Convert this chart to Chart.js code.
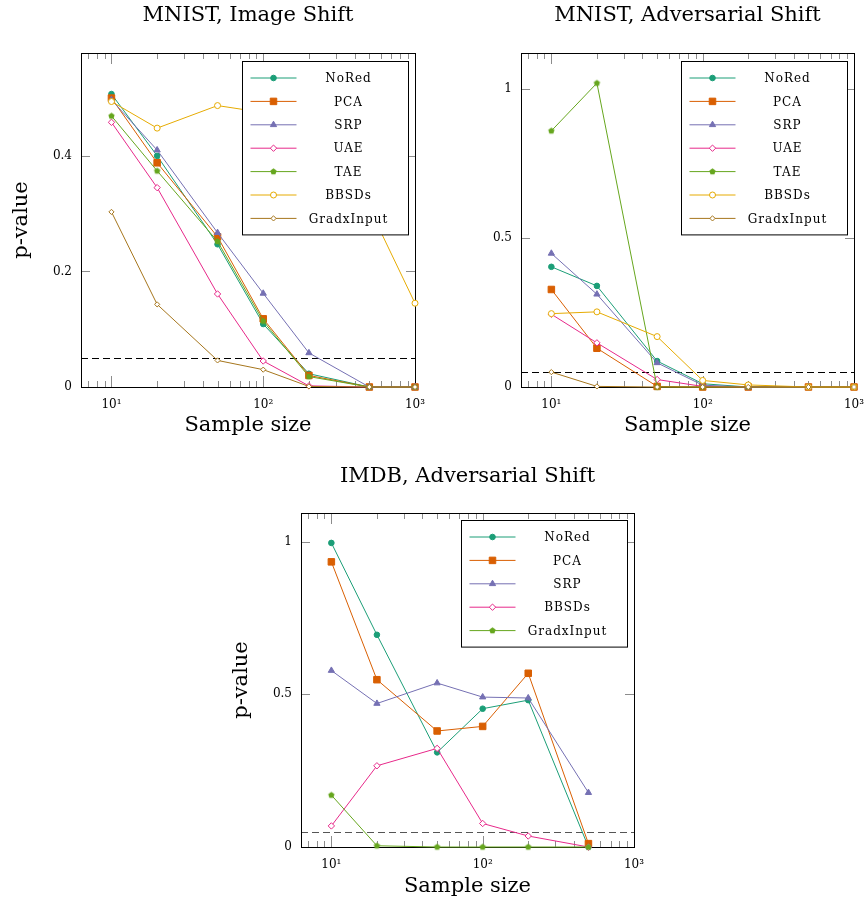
<!DOCTYPE html>
<html>
<head>
<meta charset="utf-8">
<script src="https://cdn.jsdelivr.net/npm/chart.js@4.4.0/dist/chart.umd.min.js"></script>
<style>
  html, body { margin: 0; padding: 0; background: #fff; }
  #page { position: relative; width: 866px; height: 909px; overflow: hidden; }
  canvas { position: absolute; }
</style>
</head>
<body>
<div id="page">
  <canvas id="chart1" width="433" height="455" style="left:0;top:0"></canvas>
  <canvas id="chart2" width="433" height="455" style="left:433px;top:0"></canvas>
  <canvas id="chart3" width="430" height="454" style="left:220px;top:455px"></canvas>
</div>
<script>
// Dados: tamanhos de amostra (eixo x)
const sampleSizesMnist = [10, 20, 50, 100, 200, 500, 1000];
const sampleSizesImdb = [10, 20, 50, 100, 200, 500];

// Rótulos dos ticks
const xTickValues = [10, 100, 1000];
const xTickLabels = ['10¹', '10²', '10³'];
const yTicksImage = [0, 0.2, 0.4];
const yTicksAdv = [0, 0.5, 1];
const threshold = 0.05;

// MNIST, Image Shift
const noRedImage = [0.507, 0.400, 0.247, 0.109, 0.023, 0, 0];
const pcaImage = [0.500, 0.388, 0.260, 0.118, 0.020, 0, 0];
const srpImage = [0.497, 0.410, 0.267, 0.162, 0.059, 0, 0];
const uaeImage = [0.458, 0.345, 0.161, 0.045, 0.002, 0, 0];
const taeImage = [0.469, 0.374, 0.252, 0.114, 0.018, 0, 0];
const bbsdsImage = [0.494, 0.448, 0.487, 0.475, 0.430, 0.310, 0.145];
const gradImage = [0.303, 0.143, 0.046, 0.030, 0.001, 0, 0];

// MNIST, Adversarial Shift
const noRedAdv = [0.403, 0.339, 0.087, 0.011, 0, 0, 0];
const pcaAdv = [0.327, 0.130, 0.002, 0, 0, 0, 0];
const srpAdv = [0.448, 0.311, 0.081, 0.006, 0, 0, 0];
const uaeAdv = [0.244, 0.148, 0.025, 0.002, 0, 0, 0];
const taeAdv = [0.859, 1.019, 0, 0, 0, 0, 0];
const bbsdsAdv = [0.246, 0.252, 0.169, 0.022, 0.007, 0, 0];
const gradAdv = [0.050, 0.002, 0, 0, 0, 0, 0];

// IMDB, Adversarial Shift
const noRedImdb = [0.996, 0.695, 0.310, 0.453, 0.481, 0];
const pcaImdb = [0.934, 0.548, 0.380, 0.395, 0.569, 0.011];
const srpImdb = [0.578, 0.470, 0.537, 0.491, 0.488, 0.178];
const bbsdsImdb = [0.069, 0.266, 0.323, 0.077, 0.036, 0];
const gradImdb = [0.170, 0.004, 0, 0, 0, 0];

// Cores (paleta Dark2)
const TEAL = '#1b9e77', ORANGE = '#d95f02', PURPLE = '#7570b3', PINK = '#e7298a',
      GREEN = '#66a61e', YELLOW = '#e6ab02', BROWN = '#a6761d';

const SERIF = 'DejaVu Serif';

// Marcador pentágono (não existe no Chart.js)
function pentagonImage(color, r) {
    const c = document.createElement('canvas');
    const size = Math.ceil(r * 2 + 2);
    c.width = size; c.height = size;
    const g = c.getContext('2d');
    g.beginPath();
    for (let k = 0; k < 5; k++) {
        const a = -Math.PI / 2 + k * 2 * Math.PI / 5;
        const px = size / 2 + r * Math.cos(a), py = size / 2 + r * Math.sin(a);
        if (k === 0) g.moveTo(px, py); else g.lineTo(px, py);
    }
    g.closePath();
    g.fillStyle = color;
    g.fill();
    return c;
}

// Estilos de marcador
const MARK = {
    circle: { pointStyle: 'circle', radius: 2.8, open: false },
    square: { pointStyle: 'rect', radius: 4.6, open: false },
    triangle: { pointStyle: 'triangle', radius: 3.6, open: false },
    diamond: { pointStyle: 'rectRot', radius: 3.2, open: true },
    smallDiamond: { pointStyle: 'rectRot', radius: 2.6, open: true },
    openCircle: { pointStyle: 'circle', radius: 3, open: true },
    pentagon: { pointStyle: 'pentagon', radius: 3.3, open: false }
};

function makeDataset(label, xs, values, color, mark, index, count) {
    const m = MARK[mark];
    const style = m.pointStyle === 'pentagon' ? pentagonImage(color, m.radius) : m.pointStyle;
    return {
        label: label,
        data: xs.map((x, i) => ({ x: x, y: values[i] })),
        borderColor: color,
        borderWidth: 1,
        pointStyle: style,
        pointRadius: m.radius,
        pointBorderWidth: 1,
        pointBorderColor: color,
        pointBackgroundColor: m.open ? '#ffffff' : color,
        tension: 0,
        clip: false,
        order: count - index
    };
}

// Plugin: título, moldura, ticks internos, linha tracejada e legenda
const framePlugin = {
    id: 'frame',
    beforeDatasetsDraw(chart, args, opts) {
        const ctx = chart.ctx;
        const a = chart.chartArea;
        const xs = chart.scales.x, ys = chart.scales.y;
        ctx.save();
        // título centrado sobre a área do gráfico
        ctx.fillStyle = '#000';
        ctx.font = '21px "' + SERIF + '"';
        ctx.textAlign = 'center';
        ctx.textBaseline = 'middle';
        ctx.fillText(opts.title, (a.left + a.right) / 2, opts.titleY);
        // ticks internos
        ctx.strokeStyle = '#8c8c8c';
        ctx.lineWidth = 1;
        ctx.beginPath();
        opts.yTicks.forEach(v => {
            const py = Math.round(ys.getPixelForValue(v)) + 0.5;
            ctx.moveTo(a.left, py); ctx.lineTo(a.left + 9, py);
            ctx.moveTo(a.right, py); ctx.lineTo(a.right - 9, py);
        });
        for (let dec = 1; dec <= 1000; dec *= 10) {
            for (let k = 1; k <= 9; k++) {
                const v = dec * k;
                if (v < xs.min || v > xs.max) continue;
                const px = Math.round(xs.getPixelForValue(v)) + 0.5;
                const len = k === 1 ? 11 : 6;
                ctx.moveTo(px, a.top); ctx.lineTo(px, a.top + len);
                ctx.moveTo(px, a.bottom); ctx.lineTo(px, a.bottom - len);
            }
        }
        ctx.stroke();
        // linha tracejada do limiar
        const ty = Math.round(ys.getPixelForValue(threshold)) + 0.5;
        ctx.strokeStyle = opts.dashColor;
        ctx.setLineDash([7, 4]);
        ctx.beginPath();
        ctx.moveTo(a.left, ty); ctx.lineTo(a.right, ty);
        ctx.stroke();
        ctx.setLineDash([]);
        // moldura
        ctx.strokeStyle = '#000';
        ctx.strokeRect(Math.round(a.left) + 0.5, Math.round(a.top) + 0.5,
            Math.round(a.right - a.left), Math.round(a.bottom - a.top));
        ctx.restore();
    },
    afterDatasetsDraw(chart, args, opts) {
        const ctx = chart.ctx;
        const a = chart.chartArea;
        const sets = chart.data.datasets;
        const w = 166, step = 23.4, pad = 16.5;
        const h = pad * 2 + step * (sets.length - 1);
        const bx = Math.round(a.right - 7 - w) + 0.5, by = Math.round(a.top + opts.legendTop) + 0.5;
        ctx.save();
        ctx.fillStyle = '#fff';
        ctx.fillRect(bx, by, w, h);
        ctx.strokeStyle = '#000';
        ctx.lineWidth = 1;
        ctx.strokeRect(bx, by, w, h);
        sets.forEach((ds, i) => {
            const cy = by + pad + step * i;
            ctx.strokeStyle = ds.borderColor;
            ctx.beginPath();
            ctx.moveTo(bx + 8, cy); ctx.lineTo(bx + 54, cy);
            ctx.stroke();
            ctx.fillStyle = ds.pointBackgroundColor;
            ctx.strokeStyle = ds.pointBorderColor;
            ctx.lineWidth = 1;
            Chart.helpers.drawPoint(ctx, { pointStyle: ds.pointStyle, radius: ds.pointRadius, rotation: 0, borderWidth: 1 }, bx + 31, cy);
            ctx.fillStyle = '#000';
            ctx.font = '12px "' + SERIF + '"';
            ctx.letterSpacing = '1px';
            ctx.textAlign = 'center';
            ctx.textBaseline = 'middle';
            ctx.fillText(ds.label, bx + 106, cy + 1);
        });
        ctx.restore();
    }
};

// Função para criar cada gráfico
function createChart(id, o) {
    const ctx = document.getElementById(id).getContext('2d');
    return new Chart(ctx, {
        type: 'line',
        data: { datasets: o.datasets },
        plugins: [framePlugin],
        options: {
            responsive: false,
            animation: false,
            events: [],
            layout: { padding: { left: 0, right: o.padRight, top: o.padTop, bottom: 0 } },
            plugins: {
                legend: { display: false },
                tooltip: { enabled: false },
                title: { display: false },
                frame: { title: o.title, titleY: o.titleY, yTicks: o.yTicks, dashColor: o.dashColor, legendTop: o.legendTop }
            },
            scales: {
                x: {
                    type: 'logarithmic',
                    min: 6.3,
                    max: 1000,
                    grid: { display: false, drawTicks: false },
                    border: { display: false },
                    afterBuildTicks: s => { s.ticks = xTickValues.map(v => ({ value: v })); },
                    afterFit: s => { s.height = o.xHeight; s.paddingLeft = 0; s.paddingRight = 0; },
                    ticks: {
                        autoSkip: false,
                        maxRotation: 0,
                        padding: 11,
                        color: '#000',
                        font: { family: SERIF, size: 12 },
                        callback: (v, i) => xTickLabels[i]
                    },
                    title: {
                        display: true,
                        text: 'Sample size',
                        color: '#000',
                        font: { family: SERIF, size: 21 },
                        padding: { top: 0, bottom: o.xTitleBottom }
                    }
                },
                y: {
                    min: 0,
                    max: o.yMax,
                    grid: { display: false, drawTicks: false },
                    border: { display: false },
                    afterBuildTicks: s => { s.ticks = o.yTicks.map(v => ({ value: v })); },
                    afterFit: s => { s.width = o.yWidth; s.paddingTop = 0; s.paddingBottom = 0; },
                    ticks: {
                        padding: 9,
                        color: '#000',
                        font: { family: SERIF, size: 12 },
                        callback: v => String(v)
                    },
                    title: {
                        display: o.yTitle,
                        text: 'p-value',
                        color: '#000',
                        font: { family: SERIF, size: 21 },
                        padding: { top: 9, bottom: 0 }
                    }
                }
            }
        }
    });
}

window.onload = function () {
    const m = sampleSizesMnist, d = sampleSizesImdb;

    createChart('chart1', {
        title: 'MNIST, Image Shift',
        datasets: [
            makeDataset('NoRed', m, noRedImage, TEAL, 'circle', 0, 7),
            makeDataset('PCA', m, pcaImage, ORANGE, 'square', 1, 7),
            makeDataset('SRP', m, srpImage, PURPLE, 'triangle', 2, 7),
            makeDataset('UAE', m, uaeImage, PINK, 'diamond', 3, 7),
            makeDataset('TAE', m, taeImage, GREEN, 'pentagon', 4, 7),
            makeDataset('BBSDs', m, bbsdsImage, YELLOW, 'openCircle', 5, 7),
            makeDataset('GradxInput', m, gradImage, BROWN, 'smallDiamond', 6, 7)
        ],
        yTicks: yTicksImage, yMax: 0.578, yTitle: true, yWidth: 81,
        padRight: 18, padTop: 53, xHeight: 68, xTitleBottom: 17,
        titleY: 15.6, dashColor: '#000', legendTop: 8
    });

    createChart('chart2', {
        title: 'MNIST, Adversarial Shift',
        datasets: [
            makeDataset('NoRed', m, noRedAdv, TEAL, 'circle', 0, 7),
            makeDataset('PCA', m, pcaAdv, ORANGE, 'square', 1, 7),
            makeDataset('SRP', m, srpAdv, PURPLE, 'triangle', 2, 7),
            makeDataset('UAE', m, uaeAdv, PINK, 'diamond', 3, 7),
            makeDataset('TAE', m, taeAdv, GREEN, 'pentagon', 4, 7),
            makeDataset('BBSDs', m, bbsdsAdv, YELLOW, 'openCircle', 5, 7),
            makeDataset('GradxInput', m, gradAdv, BROWN, 'smallDiamond', 6, 7)
        ],
        yTicks: yTicksAdv, yMax: 1.12, yTitle: false, yWidth: 88,
        padRight: 12, padTop: 53, xHeight: 68, xTitleBottom: 17,
        titleY: 15.6, dashColor: '#000', legendTop: 8
    });

    createChart('chart3', {
        title: 'IMDB, Adversarial Shift',
        datasets: [
            makeDataset('NoRed', d, noRedImdb, TEAL, 'circle', 0, 5),
            makeDataset('PCA', d, pcaImdb, ORANGE, 'square', 1, 5),
            makeDataset('SRP', d, srpImdb, PURPLE, 'triangle', 2, 5),
            makeDataset('BBSDs', d, bbsdsImdb, PINK, 'diamond', 3, 5),
            makeDataset('GradxInput', d, gradImdb, GREEN, 'pentagon', 4, 5)
        ],
        yTicks: yTicksAdv, yMax: 1.094, yTitle: true, yWidth: 81,
        padRight: 16, padTop: 58, xHeight: 62, xTitleBottom: 9.4,
        titleY: 22, dashColor: '#555', legendTop: 7.4
    });
};
</script>
</body>
</html>
